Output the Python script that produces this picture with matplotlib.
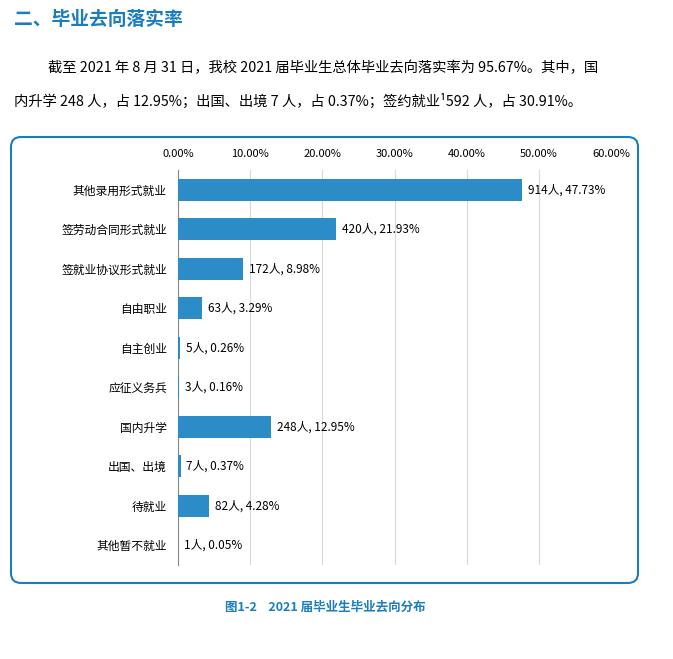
import matplotlib.pyplot as plt
from matplotlib.patches import FancyBboxPatch

plt.rcParams["font.family"] = ["Noto Sans CJK SC", "DejaVu Sans"]

categories = ["其他录用形式就业", "签劳动合同形式就业", "签就业协议形式就业", "自由职业",
              "自主创业", "应征义务兵", "国内升学", "出国、出境", "待就业", "其他暂不就业"]
counts = [914, 420, 172, 63, 5, 3, 248, 7, 82, 1]
percents = [47.73, 21.93, 8.98, 3.29, 0.26, 0.16, 12.95, 0.37, 4.28, 0.05]
xticks = [0, 10, 20, 30, 40, 50, 60]

blue = "#1a7dbf"
bar_color = "#2b8cc8"

fig = plt.figure(figsize=(6.73, 6.59), dpi=100)

# page text
fig.text(14 / 673, 1 - 19 / 659, "二、毕业去向落实率", color=blue, fontsize=13.5,
         fontweight="bold", va="center", ha="left")
fig.text(48 / 673, 1 - 68 / 659,
         "截至 2021 年 8 月 31 日，我校 2021 届毕业生总体毕业去向落实率为 95.67%。其中，国",
         fontsize=10.3, va="center", ha="left")
fig.text(14 / 673, 1 - 101 / 659,
         "内升学 248 人，占 12.95%；出国、出境 7 人，占 0.37%；签约就业¹592 人，占 30.91%。",
         fontsize=10.3, va="center", ha="left")

# rounded frame
box = FancyBboxPatch((11 / 673, 1 - 583 / 659), 627 / 673, 446 / 659,
                     boxstyle="round,pad=0,rounding_size=0.015",
                     transform=fig.transFigure, fill=False, edgecolor=blue, linewidth=1.5)
fig.patches.append(box)

ax = fig.add_axes([178 / 673, 1 - 565 / 659, 433 / 673, 395 / 659])
y = range(len(categories))
ax.barh(y, percents, height=0.55, color=bar_color, zorder=3)
for i, (c, p) in enumerate(zip(counts, percents)):
    ax.text(p + 0.8, i, f"{c}人, {p:.2f}%", va="center", ha="left", fontsize=8.5)

ax.set_xlim(0, 60)
ax.set_ylim(len(categories) - 0.5, -0.5)
ax.set_yticks(list(y))
ax.set_yticklabels(categories, fontsize=8.5)
ax.set_xticks(xticks)
ax.set_xticklabels([f"{t:.2f}%" for t in xticks], fontsize=8)
ax.xaxis.tick_top()
ax.tick_params(length=0, pad=8)
ax.grid(axis="x", color="#d9d9d9", linewidth=0.8, zorder=0)
for s in ["top", "right", "bottom"]:
    ax.spines[s].set_visible(False)
ax.spines["left"].set_color("#888888")

fig.text(325 / 673, 1 - 607 / 659, "图1-2    2021 届毕业生毕业去向分布", color=blue,
         fontsize=9, fontweight="bold", ha="center", va="center")

fig.savefig("out.png", dpi=100)
